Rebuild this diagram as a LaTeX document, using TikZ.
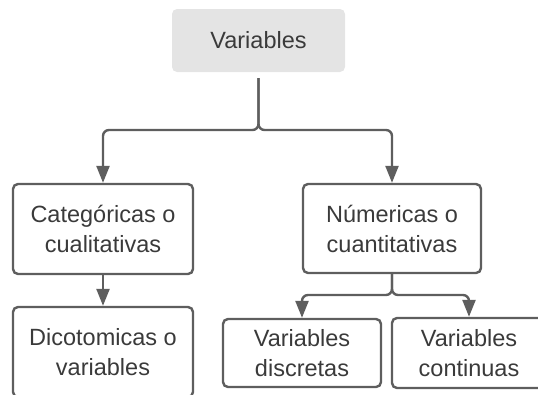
\documentclass[tikz,border=0pt]{standalone}
\usepackage{fontspec}
\setmainfont{Liberation Sans}
\usetikzlibrary{arrows.meta}
\definecolor{linegray}{HTML}{5E5E5E}
\definecolor{textgray}{HTML}{3A3A3A}
\definecolor{topfill}{HTML}{E4E4E4}
\begin{document}
\begin{tikzpicture}[x=1pt,y=-1pt, line width=2.4pt]
    \tikzstyle{vbox}=[draw=linegray, rounded corners=5pt, align=center, text=textgray,
        font=\fontsize{23.5}{30}\selectfont, inner sep=0pt]
    \tikzstyle{marrs}=[draw=linegray, rounded corners=6pt, -{Triangle[length=17pt,width=13pt]}]

    \useasboundingbox (0,0) rectangle (538,394);
    \clip (0,0) rectangle (538,394);

    % nodes
    \node[vbox, draw=none, fill=topfill, minimum width=173pt, minimum height=63pt] (var) at (258.5,40.5) {Variables};
    \node[vbox, minimum width=180pt, minimum height=90pt] (cat) at (103,229) {Categóricas o\\cualitativas};
    \node[vbox, minimum width=178pt, minimum height=89pt] (num) at (392,228.5) {Númericas o\\cuantitativas};
    \node[vbox, minimum width=180pt, minimum height=90pt] (dic) at (103,352) {Dicotomicas o\\variables};
    \node[vbox, minimum width=158pt, minimum height=68pt] (disc) at (302,353) {Variables\\discretas};
    \node[vbox, minimum width=154pt, minimum height=70pt] (cont) at (469,353) {Variables\\continuas};

    % junctions
    \coordinate (j1) at (258.5,130);
    \coordinate (j2) at (392,295);

    % connectors
    \foreach \t in {cat, num} {
        \draw[marrs, shorten <=5pt] (var.south) -- (j1) -| (\t.north);
    }
    \draw[marrs] (cat.south) -- (dic.north);
    \foreach \t in {disc, cont} {
        \draw[marrs] (num.south) -- (j2) -| (\t.north);
    }

\end{tikzpicture}
\end{document}
